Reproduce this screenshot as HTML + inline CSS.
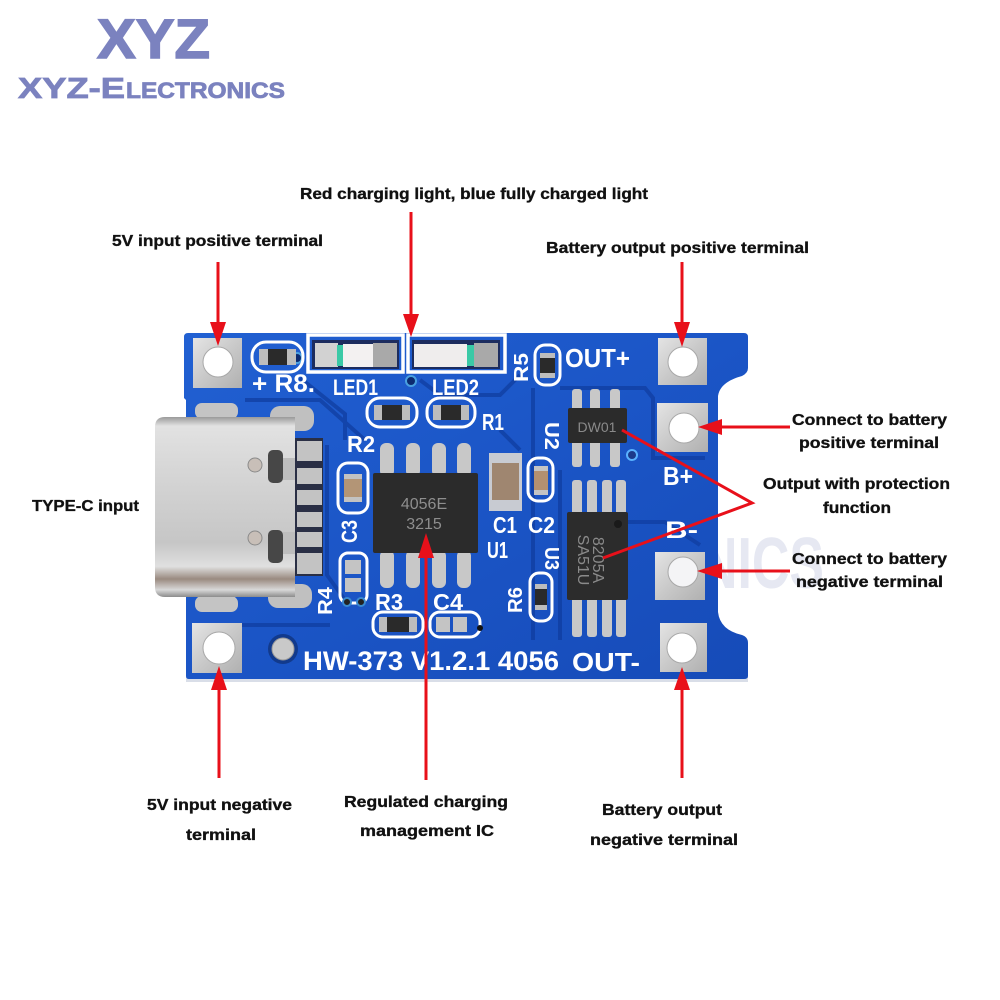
<!DOCTYPE html>
<html><head><meta charset="utf-8"><style>
html,body{margin:0;padding:0;background:#fff;}
svg{display:block;}
text{font-family:"Liberation Sans",Arial,sans-serif;font-weight:bold;}
</style></head><body>
<svg width="1000" height="1000" viewBox="0 0 1000 1000" xmlns="http://www.w3.org/2000/svg">
<defs>
<linearGradient id="board" x1="0" y1="0" x2="1" y2="1">
<stop offset="0" stop-color="#2160d2"/><stop offset="0.5" stop-color="#1b55c6"/><stop offset="1" stop-color="#164bb8"/>
</linearGradient>
<linearGradient id="silver" x1="0" y1="0" x2="1" y2="1">
<stop offset="0" stop-color="#e4e4e4"/><stop offset="0.5" stop-color="#c9c9c9"/><stop offset="1" stop-color="#b0b0b0"/>
</linearGradient>
<linearGradient id="shell" x1="0" y1="0" x2="0" y2="1">
<stop offset="0" stop-color="#9a9a9a"/><stop offset="0.05" stop-color="#e2e2e2"/><stop offset="0.3" stop-color="#d6d6d6"/><stop offset="0.7" stop-color="#c6c6c6"/><stop offset="0.83" stop-color="#e0e0e0"/><stop offset="0.9" stop-color="#9a8a80"/><stop offset="0.96" stop-color="#d8d8d8"/><stop offset="1" stop-color="#8c8c8c"/>
</linearGradient>
</defs>

<!-- logo -->
<text x="97" y="58" font-size="56" fill="#7b82bf" stroke="#7b82bf" stroke-width="1.5" textLength="113" lengthAdjust="spacingAndGlyphs">XYZ</text>
<text y="98" fill="#7b82bf" stroke="#7b82bf" stroke-width="0.8"><tspan x="18" font-size="29" textLength="107" lengthAdjust="spacingAndGlyphs">XYZ-E</tspan><tspan x="126" font-size="22" textLength="159" lengthAdjust="spacingAndGlyphs">LECTRONICS</tspan></text>

<!-- watermark -->
<text x="700" y="588" font-size="72" fill="#e6e8f2" textLength="124" lengthAdjust="spacingAndGlyphs">NICS</text>

<!-- board -->
<rect x="186" y="676" width="562" height="6" fill="#d9dee8"/>
<path d="M188,333 L744,333 Q748,333 748,337 L748,368 Q748,373 742,376 Q720,382 718,396 L718,612 Q720,630 742,635 Q748,637 748,643 L748,676 Q748,679 744,679 L189,679 Q186,679 186,676 L186,400 L184,398 L184,337 Q184,333 188,333 Z" fill="url(#board)"/>

<!-- traces -->
<g stroke="#0f3c9e" stroke-width="4" fill="none" opacity="0.7">
<path d="M300,378 L345,414 L345,440"/>
<path d="M245,400 L320,400 L365,440"/>
<path d="M420,380 L440,395 L500,395 L520,375"/>
<path d="M533,388 L533,640"/>
<path d="M560,388 L645,388 L653,398 L653,458 L705,458"/>
<path d="M628,522 L665,522 L700,545"/>
<path d="M560,470 L560,640"/>
<path d="M327,445 L327,575 L345,600"/>
<path d="M240,625 L330,625"/>
<path d="M500,430 L520,450"/>
</g>

<!-- left pads -->
<rect x="193" y="338" width="49" height="50" fill="url(#silver)"/>
<circle cx="218" cy="362" r="15" fill="#fff" stroke="#a8a8a8" stroke-width="1"/>
<rect x="192" y="623" width="50" height="50" fill="url(#silver)"/>
<circle cx="219" cy="648" r="16" fill="#fff" stroke="#a8a8a8" stroke-width="1"/>
<!-- mounting hole -->
<circle cx="283" cy="649" r="15" fill="#123a8c"/>
<circle cx="283" cy="649" r="11" fill="#c9c9c9" stroke="#9a9a9a" stroke-width="1"/>

<!-- right pads -->
<rect x="658" y="338" width="49" height="47" fill="url(#silver)"/>
<circle cx="683" cy="362" r="15" fill="#fff" stroke="#a8a8a8"/>
<rect x="657" y="403" width="51" height="49" fill="url(#silver)"/>
<circle cx="684" cy="428" r="15" fill="#fff" stroke="#a8a8a8"/>
<rect x="655" y="552" width="50" height="48" fill="url(#silver)"/>
<circle cx="683" cy="572" r="15" fill="#f4f4f6" stroke="#a8a8a8"/>
<rect x="660" y="623" width="47" height="49" fill="url(#silver)"/>
<circle cx="682" cy="648" r="15" fill="#fff" stroke="#a8a8a8"/>

<!-- USB-C connector -->
<rect x="195" y="403" width="43" height="16" rx="7" fill="#c4c4c4"/>
<rect x="270" y="406" width="44" height="25" rx="10" fill="#c0c0c0"/>
<rect x="195" y="596" width="43" height="16" rx="7" fill="#c4c4c4"/>
<rect x="268" y="584" width="44" height="24" rx="10" fill="#c0c0c0"/>
<rect x="292" y="438" width="31" height="138" fill="#2a2f45"/>
<g fill="#c3c3c3">
<rect x="297" y="441" width="25" height="20"/>
<rect x="297" y="468" width="25" height="16"/>
<rect x="297" y="490" width="25" height="15"/>
<rect x="297" y="512" width="25" height="15"/>
<rect x="297" y="532" width="25" height="15"/>
<rect x="297" y="553" width="25" height="21"/>
</g>
<path d="M165,417 L295,417 L295,597 L165,597 Q155,597 155,587 L155,427 Q155,417 165,417 Z" fill="url(#shell)"/>
<rect x="268" y="450" width="15" height="33" rx="5" fill="#474747"/>
<rect x="283" y="458" width="12" height="22" fill="#bdbdbd"/>
<rect x="268" y="530" width="15" height="33" rx="5" fill="#474747"/>
<rect x="283" y="532" width="12" height="22" fill="#bdbdbd"/>
<circle cx="255" cy="465" r="7" fill="#c8bfb8" stroke="#8a8a8a"/>
<circle cx="255" cy="538" r="7" fill="#c8bfb8" stroke="#8a8a8a"/>

<!-- LEDs -->
<rect x="308" y="335" width="95" height="37" fill="none" stroke="#fff" stroke-width="3.5"/>
<rect x="408" y="335" width="97" height="37" fill="none" stroke="#fff" stroke-width="3.5"/>
<rect x="312" y="340" width="87" height="29" fill="#1c2c5e"/>
<rect x="412" y="340" width="88" height="29" fill="#1c2c5e"/>
<rect x="315" y="343" width="23" height="24" fill="#d2d2d2"/>
<rect x="337" y="345" width="6" height="21" fill="#3ac9a6"/>
<rect x="343" y="344" width="30" height="23" fill="#f3f1f1"/>
<rect x="373" y="343" width="24" height="24" fill="#a9a9a9"/>
<rect x="414" y="344" width="53" height="23" fill="#efeded"/>
<rect x="467" y="345" width="7" height="21" fill="#3ac9a6"/>
<rect x="474" y="343" width="24" height="24" fill="#a9a9a9"/>
<text x="333" y="395" font-size="22" fill="#fff" textLength="45" lengthAdjust="spacingAndGlyphs">LED1</text>
<text x="432" y="395" font-size="22" fill="#fff" textLength="47" lengthAdjust="spacingAndGlyphs">LED2</text>
<circle cx="411" cy="381" r="5" fill="#0c2a70" stroke="#4aa0e0" stroke-width="2"/>
<circle cx="297" cy="358" r="5" fill="#0c2a70" stroke="#4aa0e0" stroke-width="2"/>

<!-- R8 -->
<rect x="252" y="342" width="51" height="30" rx="14" fill="none" stroke="#fff" stroke-width="3"/>
<rect x="259" y="349" width="37" height="16" fill="#2a2a2a"/>
<rect x="259" y="349" width="9" height="16" fill="#bdbdbd"/><rect x="287" y="349" width="9" height="16" fill="#bdbdbd"/>
<text x="252" y="392" font-size="25" fill="#fff" textLength="63" lengthAdjust="spacingAndGlyphs">+ R8.</text>

<!-- resistors under LEDs -->
<rect x="367" y="398" width="50" height="29" rx="13" fill="none" stroke="#fff" stroke-width="3"/>
<rect x="374" y="405" width="36" height="15" fill="#2a2a2a"/>
<rect x="374" y="405" width="8" height="15" fill="#bdbdbd"/><rect x="402" y="405" width="8" height="15" fill="#bdbdbd"/>
<rect x="427" y="398" width="48" height="29" rx="13" fill="none" stroke="#fff" stroke-width="3"/>
<rect x="433" y="405" width="36" height="15" fill="#2a2a2a"/>
<rect x="433" y="405" width="8" height="15" fill="#bdbdbd"/><rect x="461" y="405" width="8" height="15" fill="#bdbdbd"/>
<text x="482" y="430" font-size="23" fill="#fff" textLength="22" lengthAdjust="spacingAndGlyphs">R1</text>
<text x="347" y="452" font-size="23" fill="#fff" textLength="28" lengthAdjust="spacingAndGlyphs">R2</text>

<!-- C3 -->
<rect x="338" y="463" width="30" height="50" rx="10" fill="none" stroke="#fff" stroke-width="3"/>
<rect x="344" y="474" width="18" height="28" fill="#c2c2c2"/>
<rect x="344" y="479" width="18" height="18" fill="#b39576"/>
<text transform="translate(357,543) rotate(-90)" font-size="22" fill="#fff" textLength="23" lengthAdjust="spacingAndGlyphs">C3</text>

<!-- R4 -->
<rect x="340" y="553" width="27" height="50" rx="8" fill="none" stroke="#fff" stroke-width="3"/>
<rect x="345" y="560" width="16" height="14" fill="#c4c4c4"/>
<rect x="345" y="578" width="16" height="14" fill="#c4c4c4"/>
<circle cx="347" cy="602" r="4" fill="#222" stroke="#3a8ad0" stroke-width="2"/>
<circle cx="361" cy="602" r="4" fill="#222" stroke="#3a8ad0" stroke-width="2"/>
<text transform="translate(332,615) rotate(-90)" font-size="20" fill="#fff" textLength="28" lengthAdjust="spacingAndGlyphs">R4</text>

<!-- U1 -->
<g fill="#c8c8c8">
<rect x="380" y="443" width="14" height="34" rx="6"/><rect x="406" y="443" width="14" height="34" rx="6"/>
<rect x="432" y="443" width="14" height="34" rx="6"/><rect x="457" y="443" width="14" height="34" rx="6"/>
<rect x="380" y="550" width="14" height="38" rx="6"/><rect x="406" y="550" width="14" height="38" rx="6"/>
<rect x="432" y="550" width="14" height="38" rx="6"/><rect x="457" y="550" width="14" height="38" rx="6"/>
</g>
<rect x="373" y="473" width="105" height="80" rx="2" fill="#2b2b2b"/>
<text x="424" y="509" font-size="16" fill="#8e8e8e" text-anchor="middle" style="font-weight:normal">4056E</text>
<text x="424" y="529" font-size="16" fill="#8e8e8e" text-anchor="middle" style="font-weight:normal">3215</text>

<!-- R3 C4 -->
<text x="375" y="610" font-size="23" fill="#fff" textLength="28" lengthAdjust="spacingAndGlyphs">R3</text>
<text x="433" y="610" font-size="23" fill="#fff" textLength="30" lengthAdjust="spacingAndGlyphs">C4</text>
<rect x="373" y="612" width="50" height="25" rx="10" fill="none" stroke="#fff" stroke-width="3"/>
<rect x="379" y="617" width="38" height="15" fill="#2a2a2a"/>
<rect x="379" y="617" width="8" height="15" fill="#bdbdbd"/><rect x="409" y="617" width="8" height="15" fill="#bdbdbd"/>
<rect x="430" y="612" width="50" height="25" rx="10" fill="none" stroke="#fff" stroke-width="3"/>
<rect x="436" y="617" width="14" height="15" fill="#c4c4c4"/><rect x="453" y="617" width="14" height="15" fill="#c4c4c4"/>
<circle cx="480" cy="628" r="3" fill="#111"/>

<!-- C1 -->
<rect x="489" y="453" width="33" height="58" fill="#c8cbd2"/>
<rect x="492" y="463" width="27" height="37" fill="#9f8670"/>
<text x="493" y="533" font-size="23" fill="#fff" textLength="24" lengthAdjust="spacingAndGlyphs">C1</text>
<text x="487" y="558" font-size="23" fill="#fff" textLength="21" lengthAdjust="spacingAndGlyphs">U1</text>

<!-- C2 -->
<rect x="528" y="458" width="25" height="43" rx="10" fill="none" stroke="#fff" stroke-width="3"/>
<rect x="534" y="466" width="14" height="29" fill="#c4c4c4"/>
<rect x="534" y="471" width="14" height="19" fill="#b39070"/>
<text x="528" y="533" font-size="23" fill="#fff" textLength="27" lengthAdjust="spacingAndGlyphs">C2</text>

<!-- R5 -->
<rect x="535" y="345" width="25" height="40" rx="10" fill="none" stroke="#fff" stroke-width="3"/>
<rect x="540" y="353" width="15" height="25" fill="#2a2a2a"/>
<rect x="540" y="353" width="15" height="5" fill="#bdbdbd"/><rect x="540" y="373" width="15" height="5" fill="#bdbdbd"/>
<text transform="translate(528,382) rotate(-90)" font-size="20" fill="#fff" textLength="29" lengthAdjust="spacingAndGlyphs">R5</text>
<text x="565" y="367" font-size="26" fill="#fff" textLength="65" lengthAdjust="spacingAndGlyphs">OUT+</text>

<!-- U2 -->
<g fill="#c8c8c8">
<rect x="572" y="389" width="10" height="22" rx="3"/><rect x="590" y="389" width="10" height="22" rx="3"/><rect x="610" y="389" width="10" height="22" rx="3"/>
<rect x="572" y="440" width="10" height="27" rx="3"/><rect x="590" y="440" width="10" height="27" rx="3"/><rect x="610" y="440" width="10" height="27" rx="3"/>
</g>
<rect x="568" y="408" width="59" height="35" rx="2" fill="#2b2b2b"/>
<text x="597" y="432" font-size="14" fill="#8a8a8a" text-anchor="middle" style="font-weight:normal">DW01</text>
<text transform="translate(545,422) rotate(90)" font-size="20" fill="#fff" textLength="28" lengthAdjust="spacingAndGlyphs">U2</text>
<circle cx="632" cy="455" r="5" fill="#1c3a8a" stroke="#59b2ff" stroke-width="2"/>

<!-- U3 -->
<g fill="#c8c8c8">
<rect x="572" y="480" width="10" height="35" rx="3"/><rect x="587" y="480" width="10" height="35" rx="3"/><rect x="602" y="480" width="10" height="35" rx="3"/><rect x="616" y="480" width="10" height="35" rx="3"/>
<rect x="572" y="597" width="10" height="40" rx="3"/><rect x="587" y="597" width="10" height="40" rx="3"/><rect x="602" y="597" width="10" height="40" rx="3"/><rect x="616" y="597" width="10" height="40" rx="3"/>
</g>
<rect x="567" y="512" width="61" height="88" rx="2" fill="#2c2c2c"/>
<circle cx="618" cy="524" r="4" fill="#1a1a1a"/>
<text transform="translate(593,560) rotate(90)" font-size="16" fill="#8a8a8a" text-anchor="middle" style="font-weight:normal">8205A</text>
<text transform="translate(578,560) rotate(90)" font-size="16" fill="#8a8a8a" text-anchor="middle" style="font-weight:normal">SA51U</text>
<text transform="translate(545,547) rotate(90)" font-size="20" fill="#fff" textLength="23" lengthAdjust="spacingAndGlyphs">U3</text>

<!-- R6 -->
<rect x="530" y="573" width="22" height="48" rx="9" fill="none" stroke="#fff" stroke-width="3"/>
<rect x="535" y="584" width="12" height="26" fill="#2a2a2a"/>
<rect x="535" y="584" width="12" height="5" fill="#bdbdbd"/><rect x="535" y="605" width="12" height="5" fill="#bdbdbd"/>
<text transform="translate(522,613) rotate(-90)" font-size="20" fill="#fff" textLength="26" lengthAdjust="spacingAndGlyphs">R6</text>

<text x="663" y="485" font-size="26" fill="#fff" textLength="30" lengthAdjust="spacingAndGlyphs">B+</text>
<text x="665" y="538" font-size="24" fill="#fff" textLength="33" lengthAdjust="spacingAndGlyphs">B-</text>
<text x="572" y="671" font-size="26" fill="#fff" textLength="68" lengthAdjust="spacingAndGlyphs">OUT-</text>
<text x="303" y="670" font-size="27" fill="#fff" textLength="256" lengthAdjust="spacingAndGlyphs">HW-373 V1.2.1 4056</text>

<!-- labels -->
<g font-size="16" fill="#111" stroke="#111" stroke-width="0.35">
<text x="300" y="199" textLength="348" lengthAdjust="spacingAndGlyphs">Red charging light, blue fully charged light</text>
<text x="112" y="246" textLength="211" lengthAdjust="spacingAndGlyphs">5V input positive terminal</text>
<text x="546" y="253" textLength="263" lengthAdjust="spacingAndGlyphs">Battery output positive terminal</text>
<text x="32" y="511" textLength="107" lengthAdjust="spacingAndGlyphs">TYPE-C input</text>
<text x="792" y="425" textLength="155" lengthAdjust="spacingAndGlyphs">Connect to battery</text>
<text x="799" y="448" textLength="140" lengthAdjust="spacingAndGlyphs">positive terminal</text>
<text x="763" y="489" textLength="187" lengthAdjust="spacingAndGlyphs">Output with protection</text>
<text x="823" y="513" textLength="68" lengthAdjust="spacingAndGlyphs">function</text>
<text x="792" y="564" textLength="155" lengthAdjust="spacingAndGlyphs">Connect to battery</text>
<text x="796" y="587" textLength="147" lengthAdjust="spacingAndGlyphs">negative terminal</text>
<text x="147" y="810" textLength="145" lengthAdjust="spacingAndGlyphs">5V input negative</text>
<text x="186" y="840" textLength="70" lengthAdjust="spacingAndGlyphs">terminal</text>
<text x="344" y="807" textLength="164" lengthAdjust="spacingAndGlyphs">Regulated charging</text>
<text x="360" y="836" textLength="134" lengthAdjust="spacingAndGlyphs">management IC</text>
<text x="602" y="815" textLength="120" lengthAdjust="spacingAndGlyphs">Battery output</text>
<text x="590" y="845" textLength="148" lengthAdjust="spacingAndGlyphs">negative terminal</text>
</g>

<!-- arrows -->
<g stroke="#e8101a" stroke-width="3" fill="none">
<line x1="218" y1="262" x2="218" y2="326"/>
<line x1="411" y1="212" x2="411" y2="318"/>
<line x1="682" y1="262" x2="682" y2="326"/>
<line x1="790" y1="427" x2="716" y2="427"/>
<line x1="790" y1="571" x2="716" y2="571"/>
<line x1="219" y1="686" x2="219" y2="778"/>
<line x1="426" y1="552" x2="426" y2="780"/>
<line x1="682" y1="686" x2="682" y2="778"/>
<polyline points="622,430 752,503 603,558"/>
</g>
<g fill="#e8101a">
<polygon points="218,346 210,322 226,322"/>
<polygon points="411,337 403,314 419,314"/>
<polygon points="682,347 674,322 690,322"/>
<polygon points="698,427 722,419 722,435"/>
<polygon points="697,571 722,563 722,579"/>
<polygon points="219,666 211,690 227,690"/>
<polygon points="426,533 418,558 434,558"/>
<polygon points="682,667 674,690 690,690"/>
</g>
</svg>
</body></html>
